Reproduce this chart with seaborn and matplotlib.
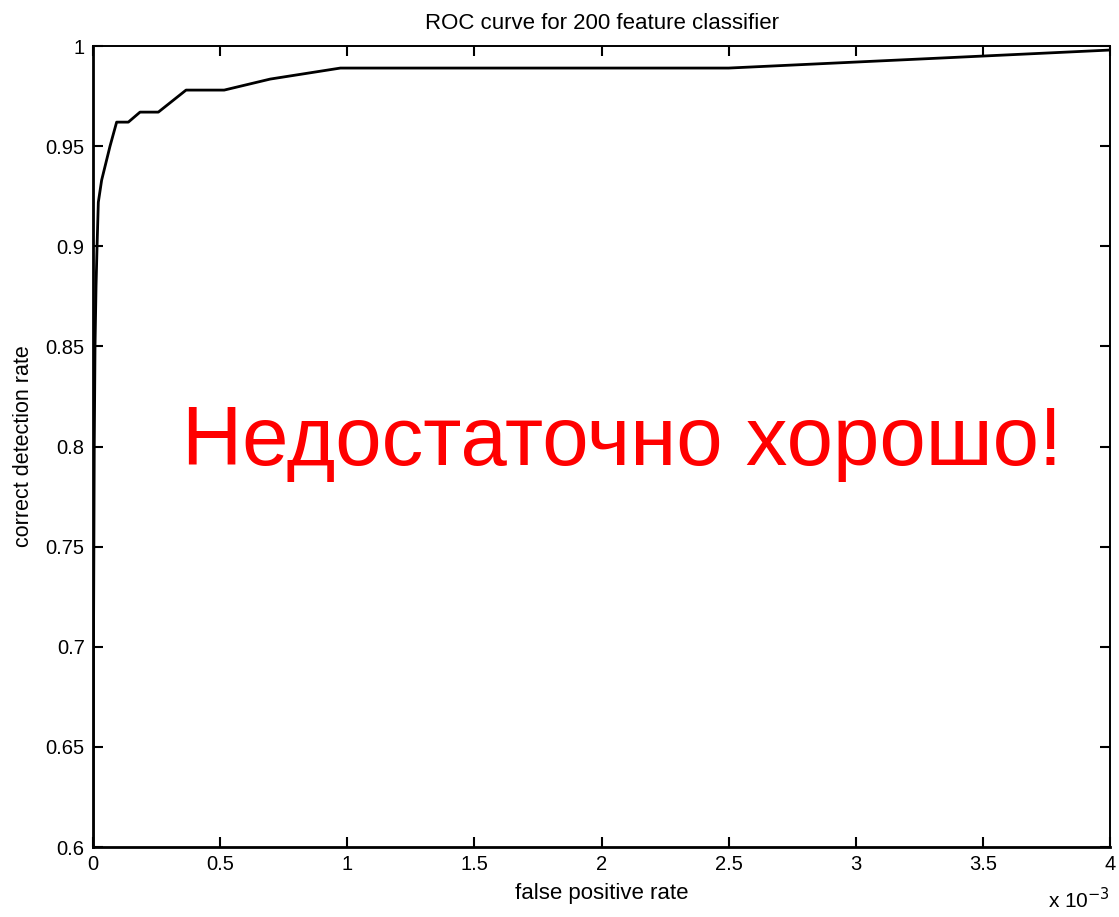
import matplotlib
matplotlib.use("Agg")
import matplotlib.pyplot as plt
import seaborn as sns
import pandas as pd
from matplotlib.ticker import FuncFormatter

sns.set_theme(style="white")
plt.rcParams["font.family"] = ["Liberation Sans", "DejaVu Sans"]
plt.rcParams["text.color"] = "black"
plt.rcParams["axes.labelcolor"] = "black"

# ROC curve points: false positive rate (in units of 1e-3) and detection rate
fpr_e3 = [0.0, 0.002, 0.005, 0.008, 0.012, 0.016, 0.021, 0.034, 0.067, 0.093,
          0.139, 0.185, 0.257, 0.366, 0.516, 0.697, 0.973, 2.5, 3.0, 3.5, 4.0]
detection = [0.6, 0.7, 0.8, 0.85, 0.88, 0.9, 0.922, 0.933, 0.95, 0.962,
             0.962, 0.967, 0.967, 0.978, 0.978, 0.9835, 0.989, 0.989, 0.992, 0.995, 0.998]

x_ticks = [0, 0.5, 1, 1.5, 2, 2.5, 3, 3.5, 4]
y_ticks = [0.6, 0.65, 0.7, 0.75, 0.8, 0.85, 0.9, 0.95, 1.0]

title = "ROC curve for 200 feature classifier"
x_label = "false positive rate"
y_label = "correct detection rate"
verdict = "Недостаточно хорошо!"

df = pd.DataFrame({"fpr": fpr_e3, "tpr": detection})

fig = plt.figure(figsize=(11.19, 9.17), dpi=100)
ax = fig.add_axes([0.0831, 0.0763, 0.9089, 0.8735])

sns.lineplot(data=df, x="fpr", y="tpr", ax=ax, color="black", linewidth=2.0,
             sort=False, estimator=None)

ax.set_xlim(0, 4)
ax.set_ylim(0.6, 1.0)
ax.set_xticks(x_ticks)
ax.set_yticks(y_ticks)
ax.xaxis.set_major_formatter(FuncFormatter(lambda v, p: f"{v:g}"))
ax.yaxis.set_major_formatter(FuncFormatter(lambda v, p: f"{v:g}"))

ax.tick_params(axis="both", which="major", direction="in", length=7, width=1.5,
               labelsize=14.5, colors="black", labelcolor="black",
               top=True, right=True, bottom=True, left=True, pad=6)

for side, spine in ax.spines.items():
    spine.set_visible(True)
    spine.set_color("black")
    spine.set_linewidth(2.0 if side in ("left", "bottom") else 1.4)

ax.set_title(title, fontsize=16, pad=12, color="black")
ax.set_xlabel(x_label, fontsize=16, labelpad=6)
ax.set_ylabel(y_label, fontsize=15.5, labelpad=8)

ax.text(1.0, -0.066, r"x 10$^{-3}$", transform=ax.transAxes, fontsize=15,
        ha="right", va="center", color="black")

ax.text(0.52, 0.504, verdict, transform=ax.transAxes, color="#ff0000",
        fontsize=60, ha="center", va="center")

fig.savefig("out.png", dpi=100)
